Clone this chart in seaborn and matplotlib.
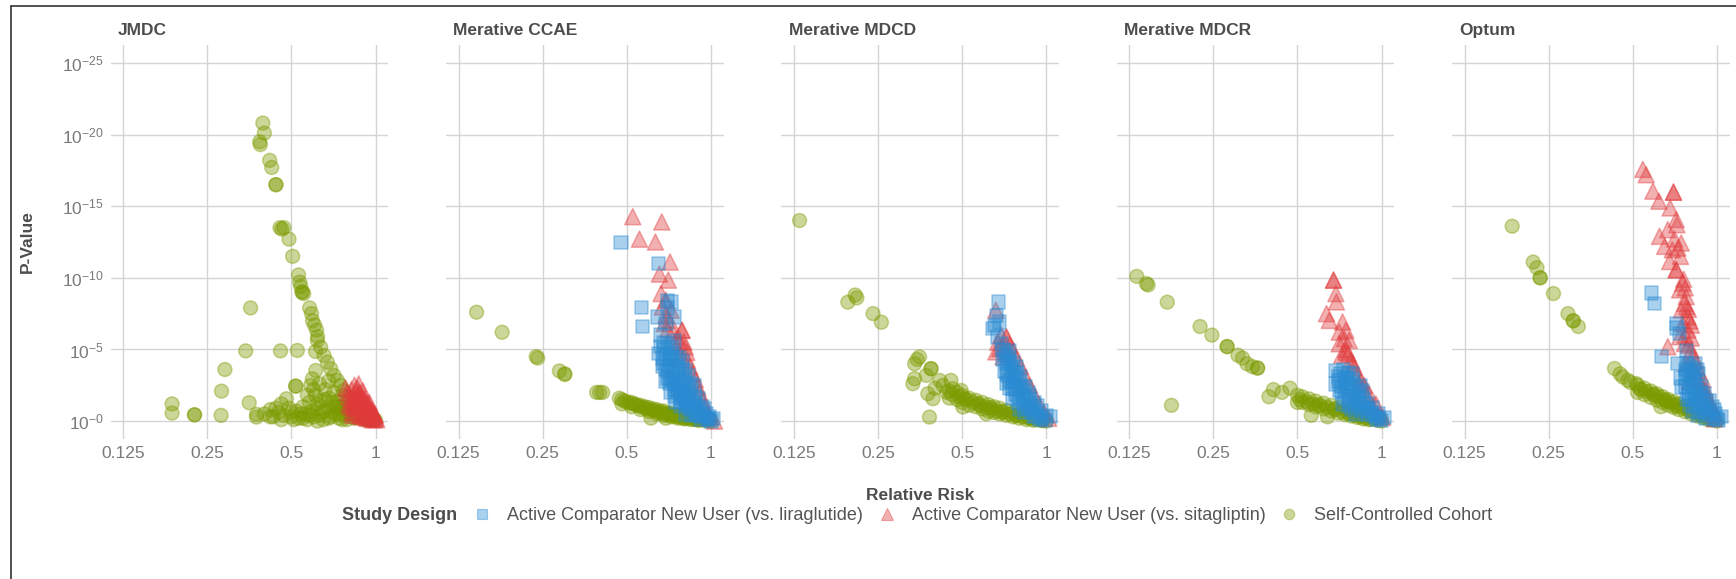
import numpy as np
import pandas as pd
import matplotlib
matplotlib.use("Agg")
import matplotlib.pyplot as plt
from matplotlib.lines import Line2D
import seaborn as sns

# databases (facets) and study designs
databases = ["JMDC", "Merative CCAE", "Merative MDCD", "Merative MDCR", "Optum"]
design_lira = "Active Comparator New User (vs. liraglutide)"
design_sita = "Active Comparator New User (vs. sitagliptin)"
design_scc = "Self-Controlled Cohort"

# relative risk (rr) and -log10(p) (nlp)
jmdc_scc_rr = [0.395, 0.40, 0.385, 0.387, 0.418, 0.425, 0.44, 0.44, 0.455, 0.47, 0.462, 0.49, 0.505, 0.53,
               0.535, 0.54, 0.545, 0.553, 0.547, 0.581, 0.59, 0.595, 0.605, 0.615, 0.62, 0.619, 0.636, 0.654,
               0.672, 0.691, 0.71, 0.73, 0.75, 0.771, 0.803, 0.837, 0.884, 0.934, 0.986,
               0.357, 0.343, 0.457, 0.525, 0.61, 0.289, 0.281, 0.353, 0.187, 0.187, 0.225, 0.225, 0.28, 0.375,
               0.375, 0.518, 0.518, 0.594, 0.586, 0.611, 0.48, 0.46, 0.44,
               0.40, 0.42, 0.43, 0.45, 0.47, 0.49, 0.50, 0.52, 0.53, 0.55, 0.56, 0.57, 0.58, 0.59, 0.60, 0.61,
               0.62, 0.63, 0.64, 0.65, 0.66, 0.66, 0.68, 0.69, 0.70, 0.71, 0.72, 0.73, 0.74, 0.75, 0.76, 0.77,
               0.78, 0.79, 0.80, 0.82, 0.83, 0.85, 0.86, 0.88, 0.90, 0.92, 0.94, 0.96, 0.98, 1.0, 0.63, 0.60,
               0.57, 0.68, 0.70, 0.74, 0.54, 0.51, 0.62,
               0.62, 0.64, 0.66, 0.68, 0.70, 0.72, 0.74, 0.76, 0.78, 0.80, 0.82, 0.84, 0.86, 0.90, 0.94,
               0.58, 0.55, 0.50, 0.46, 0.42]
jmdc_scc_nlp = [20.8, 20.1, 19.5, 19.3, 18.2, 17.7, 16.5, 16.5, 13.5, 13.5, 13.4, 12.7, 11.5, 10.2,
                9.7, 9.4, 9.0, 8.9, 9.0, 7.9, 7.5, 7.0, 6.7, 6.35, 5.9, 5.63, 5.16, 4.58,
                4.12, 3.65, 3.19, 2.84, 2.49, 2.14, 1.67, 1.21, 0.74, 0.40, 0.09,
                7.9, 4.9, 4.9, 4.93, 4.86, 3.6, 2.09, 1.28, 1.2, 0.56, 0.44, 0.44, 0.40, 0.47,
                0.28, 2.44, 2.44, 2.95, 2.49, 3.53, 1.56, 1.2, 0.9,
                0.5, 0.8, 0.3, 0.6, 0.4, 0.9, 0.3, 0.7, 0.2, 1.0, 0.5, 0.1, 1.3, 0.7, 0.3, 1.8,
                0.9, 0.4, 1.4, 0.1, 2.2, 0.7, 1.6, 0.3, 1.0, 2.0, 0.5, 1.4, 0.2, 0.9, 1.8, 0.4,
                1.2, 0.1, 0.7, 1.1, 0.3, 0.6, 0.9, 0.2, 0.5, 0.1, 0.3, 0.1, 0.2, 0.05, 2.6, 2.2,
                1.8, 2.8, 0.6, 1.0, 0.5, 0.1, 0.0,
                1.2, 0.6, 1.5, 0.2, 1.3, 1.0, 0.5, 0.1, 0.7, 1.0, 0.5, 0.2, 0.4, 0.25, 0.05,
                0.4, 0.2, 0.6, 0.1, 0.3]
jmdc_sita_rr = [0.78, 0.79, 0.80, 0.82, 0.84, 0.86, 0.85, 0.83, 0.87, 0.88, 0.89, 0.90, 0.91, 0.92, 0.93,
                0.94, 0.95, 0.96, 0.97, 0.98, 0.99, 1.00, 1.01, 0.86, 0.88, 0.92, 0.82, 0.95, 0.90, 0.87,
                0.89, 0.84, 0.81, 0.93, 0.97,
                0.80, 0.82, 0.84, 0.86, 0.87, 0.88, 0.89, 0.90, 0.91, 0.92, 0.93, 0.94, 0.95, 0.96, 0.97,
                0.98, 0.99, 1.0, 0.85, 0.83]
jmdc_sita_nlp = [2.3, 2.0, 1.7, 2.2, 2.5, 2.3, 1.6, 1.1, 1.9, 1.3, 0.9, 1.6, 1.2, 0.8, 1.3,
                 0.9, 0.6, 0.9, 0.5, 0.3, 0.5, 0.2, 0.1, 0.6, 0.4, 0.3, 0.6, 0.2, 2.1, 2.6,
                 0.3, 1.4, 1.0, 0.5, 0.1,
                 1.2, 1.5, 0.9, 1.8, 1.1, 2.0, 1.5, 1.0, 0.6, 1.5, 0.2, 1.1, 1.3, 0.4, 0.8,
                 0.6, 0.1, 0.4, 2.0, 0.4]
jmdc_lira_rr = []
jmdc_lira_nlp = []

ccae_scc_rr = [0.145, 0.179, 0.237, 0.24, 0.287, 0.30, 0.30, 0.39, 0.40, 0.41, 0.47, 0.61, 0.69,
               0.48, 0.48, 0.52, 0.52, 0.56, 0.56, 0.60, 0.60, 0.64, 0.64, 0.68, 0.68, 0.72, 0.72,
               0.76, 0.76, 0.80, 0.80, 0.85, 0.85, 0.90, 0.90, 0.95, 1.0, 0.50, 0.54, 0.58, 0.62,
               0.66, 0.70, 0.74, 0.78, 0.82, 0.88, 0.93, 0.98,
               0.49, 0.51, 0.53, 0.55, 0.57, 0.59, 0.61, 0.63, 0.65, 0.67, 0.69, 0.71, 0.73, 0.75,
               0.77, 0.79, 0.81, 0.83, 0.87, 0.91, 0.96]
ccae_scc_nlp = [7.6, 6.2, 4.5, 4.4, 3.5, 3.3, 3.25, 2.0, 2.0, 2.0, 1.6, 0.2, 0.2,
                1.5, 1.2, 1.3, 1.0, 1.1, 0.8, 0.95, 0.65, 0.8, 0.5, 0.7, 0.4, 0.55, 0.3,
                0.45, 0.2, 0.35, 0.15, 0.25, 0.1, 0.15, 0.05, 0.1, 0.0, 1.35, 1.15, 1.0, 0.85,
                0.7, 0.55, 0.45, 0.35, 0.25, 0.15, 0.1, 0.05,
                1.4, 1.25, 1.2, 1.05, 0.95, 0.85, 0.75, 0.7, 0.6, 0.55, 0.5, 0.45, 0.38, 0.32,
                0.28, 0.24, 0.2, 0.17, 0.12, 0.08, 0.03]
ccae_sita_rr = [0.525, 0.667, 0.555, 0.633, 0.714, 0.654, 0.704, 0.663, 0.69, 0.67, 0.69, 0.68, 0.72,
                0.71, 0.788, 0.788, 0.80, 0.81, 0.75, 0.78, 0.825, 0.86, 0.896, 0.934, 0.973, 1.03,
                0.76, 0.73, 0.70, 0.84, 0.88, 0.91, 0.95, 0.99, 0.77, 0.82]
ccae_sita_nlp = [14.27, 13.9, 12.7, 12.5, 11.1, 10.26, 9.84, 8.9, 8.44, 7.97, 7.39, 6.81, 7.74,
                 7.04, 6.34, 6.34, 5.52, 5.17, 5.17, 4.71, 4.24, 3.31, 2.38, 1.45, 0.51, 0.0,
                 5.9, 6.2, 6.4, 3.8, 2.9, 2.0, 1.0, 0.3, 5.5, 4.8]
ccae_lira_rr = [0.477, 0.65, 0.70, 0.72, 0.563, 0.57, 0.645, 0.74, 0.69, 0.65, 0.70, 0.66, 0.68,
                0.66, 0.68, 0.70, 0.72, 0.74,
                0.67, 0.69, 0.71, 0.73, 0.75, 0.77, 0.79,
                0.67, 0.69, 0.71, 0.73, 0.75, 0.77, 0.79, 0.81, 0.83,
                0.69, 0.71, 0.73, 0.75, 0.77, 0.79, 0.81, 0.83, 0.85, 0.87,
                0.72, 0.74, 0.76, 0.78, 0.80, 0.82, 0.84, 0.86, 0.88, 0.90,
                0.75, 0.78, 0.81, 0.84, 0.87, 0.90, 0.93, 0.95,
                0.81, 0.85, 0.89, 0.93, 0.96, 0.99, 1.02, 0.97, 1.0, 0.92,
                0.68, 0.70, 0.72, 0.74, 0.76, 0.78, 0.80, 0.82, 0.84, 0.86, 0.88, 0.90,
                0.72, 0.76, 0.80, 0.84, 0.88, 0.92, 0.95, 0.98, 0.70, 0.74, 0.78]
ccae_lira_nlp = [12.47, 11.0, 8.44, 8.32, 7.93, 6.62, 7.27, 7.27, 6.81, 4.7, 7.9, 6.0, 5.5,
                 5.2, 5.0, 5.4, 5.1, 5.6,
                 4.4, 4.6, 4.3, 4.7, 4.5, 4.4, 4.2,
                 3.8, 3.6, 3.9, 3.4, 3.7, 3.3, 3.6, 3.5, 3.2,
                 2.8, 2.6, 2.9, 2.5, 2.8, 2.4, 2.7, 2.3, 2.6, 2.5,
                 2.0, 1.7, 2.1, 1.6, 1.9, 1.5, 1.8, 1.4, 1.7, 1.6,
                 1.3, 1.0, 1.2, 0.9, 1.1, 0.8, 1.0, 0.9,
                 0.5, 0.4, 0.5, 0.3, 0.5, 0.3, 0.2, 0.1, 0.0, 0.1,
                 4.0, 3.5, 3.0, 2.7, 2.3, 2.0, 1.6, 1.3, 1.1, 0.8, 0.6, 0.4,
                 4.4, 3.9, 3.0, 2.1, 1.3, 0.6, 0.3, 0.15, 3.0, 2.2, 1.4]

mdcd_scc_rr = [0.131, 0.195, 0.207, 0.21, 0.24, 0.257, 0.352, 0.345, 0.338, 0.387, 0.387, 0.338, 0.333,
               0.372, 0.377, 0.393, 0.382, 0.416, 0.427, 0.456, 0.463, 0.496, 0.503, 0.61, 0.40, 0.44,
               0.45, 0.45, 0.48, 0.48, 0.50, 0.50, 0.53, 0.53, 0.56, 0.56, 0.59, 0.59, 0.62, 0.62,
               0.65, 0.65, 0.68, 0.68, 0.72, 0.72, 0.76, 0.76, 0.80, 0.80, 0.85, 0.85, 0.90, 0.90,
               0.95, 1.0, 0.51, 0.57, 0.63, 0.70, 0.78, 0.87, 0.97,
               0.46, 0.49, 0.52, 0.55, 0.58, 0.61, 0.64, 0.67, 0.70, 0.74, 0.78, 0.82, 0.87, 0.92, 0.97]
mdcd_scc_nlp = [14.0, 8.3, 8.8, 8.6, 7.5, 6.9, 4.48, 4.3, 4.0, 3.66, 3.66, 2.96, 2.61,
                3.19, 1.91, 1.56, 0.28, 2.84, 2.49, 2.84, 2.26, 2.14, 0.98, 0.51, 2.3, 2.0,
                2.1, 1.6, 2.0, 1.5, 1.8, 1.3, 1.6, 1.1, 1.45, 1.0, 1.3, 0.85, 1.15, 0.7,
                1.0, 0.6, 0.9, 0.5, 0.75, 0.4, 0.6, 0.3, 0.5, 0.2, 0.35, 0.1, 0.2, 0.05,
                0.1, 0.0, 1.55, 1.2, 0.95, 0.65, 0.4, 0.2, 0.05,
                1.85, 1.7, 1.5, 1.3, 1.1, 0.95, 0.8, 0.7, 0.6, 0.5, 0.4, 0.3, 0.2, 0.1, 0.03]
mdcd_sita_rr = [0.66, 0.72, 0.72, 0.66, 0.68, 0.70, 0.73, 0.76, 0.70, 0.74, 0.78, 0.81, 0.84, 0.87,
                0.90, 0.94, 0.98, 1.02, 0.69, 0.67]
mdcd_sita_nlp = [7.74, 5.87, 5.87, 4.83, 5.06, 5.17, 4.71, 4.94, 4.5, 5.3, 4.4, 3.8, 3.1, 2.5,
                 1.9, 1.2, 0.6, 0.2, 6.0, 5.5]
mdcd_lira_rr = [0.675, 0.662, 0.653, 0.644, 0.68, 0.67, 0.69,
                0.70, 0.72, 0.74,
                0.70, 0.72, 0.74, 0.76, 0.78,
                0.71, 0.73, 0.75, 0.77, 0.79, 0.81,
                0.72, 0.74, 0.76, 0.78, 0.80, 0.82, 0.84, 0.86,
                0.76, 0.79, 0.82, 0.85, 0.88, 0.91, 0.93,
                0.80, 0.84, 0.88, 0.92, 0.96, 1.0, 1.03, 0.90, 0.95, 0.99,
                0.71, 0.73, 0.75, 0.72, 0.74, 0.76, 0.78, 0.80, 0.83, 0.86, 0.89, 0.92, 0.96,
                0.77, 0.80, 0.83, 0.87, 0.90]
mdcd_lira_nlp = [8.32, 7.39, 6.69, 6.46, 6.92, 5.87, 5.4,
                 5.0, 4.8, 4.9,
                 4.3, 4.0, 4.4, 4.1, 3.8,
                 3.5, 3.2, 3.6, 3.0, 3.4, 3.1,
                 2.6, 2.3, 2.7, 2.2, 2.5, 2.1, 2.4, 2.0,
                 1.6, 1.3, 1.7, 1.4, 1.6, 1.3, 1.1,
                 0.8, 0.6, 0.9, 0.6, 0.7, 0.4, 0.3, 0.3, 0.1, 0.05,
                 4.6, 4.2, 3.8, 3.3, 2.8, 2.3, 1.9, 1.5, 1.1, 0.9, 0.6, 0.35, 0.2,
                 3.3, 2.8, 2.4, 1.8, 1.0]

mdcr_scc_rr = [0.133, 0.144, 0.146, 0.171, 0.177, 0.224, 0.247, 0.28, 0.28, 0.306, 0.318, 0.33, 0.345,
               0.36, 0.36, 0.395, 0.41, 0.44, 0.47, 0.50, 0.50, 0.56, 0.64,
               0.52, 0.52, 0.55, 0.55, 0.58, 0.58, 0.62, 0.62, 0.66, 0.66, 0.70, 0.70, 0.74, 0.74,
               0.78, 0.78, 0.82, 0.82, 0.86, 0.86, 0.90, 0.90, 0.95, 1.0, 0.60, 0.68, 0.76, 0.84, 0.93,
               0.51, 0.54, 0.57, 0.60, 0.64, 0.68, 0.72, 0.76, 0.80, 0.84, 0.88, 0.92, 0.97]
mdcr_scc_nlp = [10.1, 9.6, 9.5, 8.3, 1.1, 6.6, 6.0, 5.2, 5.2, 4.6, 4.4, 4.0, 3.8,
                3.7, 3.7, 1.7, 2.2, 2.0, 2.3, 1.8, 1.3, 0.4, 0.3,
                1.7, 1.3, 1.55, 1.15, 1.4, 1.0, 1.25, 0.85, 1.1, 0.7, 0.95, 0.55, 0.8, 0.45,
                0.65, 0.35, 0.5, 0.25, 0.4, 0.15, 0.3, 0.1, 0.15, 0.0, 1.15, 0.85, 0.55, 0.35, 0.2,
                1.5, 1.35, 1.2, 1.05, 0.95, 0.8, 0.65, 0.55, 0.4, 0.3, 0.2, 0.12, 0.05]
mdcr_sita_rr = [0.673, 0.673, 0.686, 0.689, 0.635, 0.65, 0.725, 0.705, 0.745, 0.735, 0.766, 0.705, 0.745,
                0.776, 0.798, 0.82, 0.843, 0.867, 0.903, 0.954, 1.008, 0.745, 0.76, 0.72, 0.79, 0.83,
                0.88, 0.93, 0.98]
mdcr_sita_nlp = [9.84, 9.84, 8.90, 8.32, 7.5, 7.03, 6.92, 6.21, 6.33, 5.75, 5.63, 5.4, 4.81,
                 4.23, 3.76, 3.18, 2.83, 2.48, 1.89, 1.19, 0.26, 5.0, 4.7, 4.6, 4.0, 2.6,
                 1.9, 1.0, 0.5]
mdcr_lira_rr = [0.686, 0.715, 0.686, 0.705, 0.745, 0.70, 0.73, 0.76, 0.787, 0.72, 0.75, 0.78, 0.81, 0.83,
                0.855, 0.725, 0.74, 0.77, 0.80, 0.83, 0.86, 0.89, 0.93, 0.78, 0.81, 0.85, 0.89, 0.93,
                0.97, 1.02, 0.96, 1.0, 0.88, 0.76,
                0.70, 0.72, 0.74, 0.76, 0.78, 0.80, 0.82, 0.84, 0.87, 0.90, 0.92, 0.95, 0.98,
                0.75, 0.79, 0.84]
mdcr_lira_nlp = [3.53, 3.29, 2.59, 2.13, 2.94, 3.1, 3.6, 3.4, 3.29, 2.4, 2.2, 2.6, 2.3, 2.0,
                 2.13, 1.19, 1.6, 1.4, 1.7, 1.3, 1.6, 1.2, 0.96, 0.8, 0.49, 0.7, 0.5, 0.4,
                 0.5, 0.26, 0.1, 0.05, 0.9, 1.0,
                 2.8, 2.0, 2.6, 1.8, 2.2, 1.2, 1.8, 1.0, 1.3, 0.8, 0.6, 0.3, 0.2,
                 3.0, 2.9, 2.5]

optum_scc_rr = [0.185, 0.22, 0.227, 0.233, 0.233, 0.26, 0.293, 0.306, 0.306, 0.319, 0.43, 0.46, 0.45,
                0.48, 0.49, 0.514, 0.63,
                0.52, 0.52, 0.55, 0.55, 0.58, 0.58, 0.61, 0.61, 0.64, 0.64, 0.67, 0.67, 0.70, 0.70,
                0.73, 0.73, 0.77, 0.77, 0.81, 0.81, 0.85, 0.85, 0.89, 0.89, 0.93, 0.93, 0.97, 1.0,
                0.535, 0.595, 0.655, 0.715, 0.79, 0.87, 0.95,
                0.53, 0.56, 0.59, 0.62, 0.65, 0.68, 0.71, 0.75, 0.79, 0.83, 0.87, 0.91, 0.95]
optum_scc_nlp = [13.6, 11.1, 10.7, 10.0, 10.0, 8.9, 7.5, 7.0, 7.0, 6.6, 3.67, 3.08, 3.3,
                 2.85, 2.7, 2.62, 1.0,
                 2.5, 2.0, 2.3, 1.85, 2.1, 1.65, 1.9, 1.45, 1.7, 1.3, 1.5, 1.1, 1.35, 0.95,
                 1.2, 0.8, 1.0, 0.65, 0.85, 0.5, 0.65, 0.35, 0.5, 0.25, 0.3, 0.1, 0.15, 0.0,
                 2.2, 1.8, 1.4, 1.05, 0.75, 0.45, 0.2,
                 2.25, 2.05, 1.9, 1.7, 1.5, 1.3, 1.15, 0.95, 0.8, 0.6, 0.45, 0.3, 0.1]
optum_sita_rr = [0.543, 0.558, 0.59, 0.62, 0.699, 0.699, 0.68, 0.715, 0.719, 0.667, 0.623, 0.705, 0.745,
                 0.65, 0.692, 0.725, 0.677, 0.715, 0.715, 0.755, 0.735, 0.776, 0.766, 0.745, 0.787,
                 0.755, 0.787, 0.735, 0.766, 0.809, 0.776, 0.832, 0.798, 0.867, 0.916, 0.981, 0.667,
                 0.76, 0.78, 0.80, 0.77, 0.81, 0.82, 0.85, 0.88, 0.90, 0.94, 0.97,
                 0.84, 0.86, 0.89, 0.91, 0.93, 0.96, 0.99, 0.79, 0.81, 0.79, 0.77, 0.74]
optum_sita_nlp = [17.57, 17.2, 16.05, 15.35, 15.98, 15.98, 14.88, 14.07, 13.71, 13.36, 12.9, 12.71, 12.43,
                  12.2, 11.96, 12.08, 11.14, 10.56, 10.56, 9.63, 9.16, 8.69, 8.22, 7.76, 7.29,
                  6.82, 6.36, 5.89, 5.42, 4.95, 4.02, 3.55, 2.85, 2.15, 0.98, 0.16, 5.19,
                  9.9, 8.0, 7.0, 6.0, 5.8, 4.5, 3.0, 2.5, 1.8, 1.2, 0.6,
                  4.2, 3.5, 2.9, 2.2, 1.6, 1.0, 0.4, 5.3, 6.7, 7.8, 9.3, 11.5]
optum_lira_rr = [0.582, 0.598, 0.632, 0.715, 0.735, 0.72, 0.776, 0.776, 0.725, 0.745, 0.74,
                 0.77, 0.79, 0.81, 0.84, 0.77, 0.80, 0.83, 0.86, 0.77, 0.79, 0.82, 0.85, 0.88,
                 0.78, 0.80, 0.83, 0.86, 0.89, 0.92, 0.82, 0.85, 0.89, 0.93, 0.96, 0.99, 1.04,
                 0.91, 0.97, 1.01,
                 0.78, 0.80, 0.82, 0.84, 0.87, 0.79, 0.81, 0.84, 0.88, 0.90, 0.92, 0.94, 0.95,
                 0.98, 1.0, 0.87, 0.83, 0.85]
optum_lira_nlp = [8.93, 8.22, 4.49, 6.82, 6.12, 6.5, 4.95, 4.02, 4.02, 2.38, 3.0,
                  3.6, 3.9, 3.7, 4.0, 3.0, 3.2, 3.0, 3.3, 2.4, 2.0, 2.5, 2.2, 2.4,
                  1.5, 1.1, 1.6, 1.3, 1.7, 1.4, 0.7, 0.4, 0.8, 0.6, 1.0, 0.5, 0.3,
                  0.2, 0.1, 0.05,
                  3.3, 2.6, 3.5, 2.8, 2.0, 1.8, 1.5, 1.9, 1.1, 1.9, 0.9, 1.4, 0.4,
                  0.8, 0.2, 0.6, 1.0, 3.6]

series = [
    ("JMDC", jmdc_scc_rr, jmdc_scc_nlp, jmdc_sita_rr, jmdc_sita_nlp, jmdc_lira_rr, jmdc_lira_nlp),
    ("Merative CCAE", ccae_scc_rr, ccae_scc_nlp, ccae_sita_rr, ccae_sita_nlp, ccae_lira_rr, ccae_lira_nlp),
    ("Merative MDCD", mdcd_scc_rr, mdcd_scc_nlp, mdcd_sita_rr, mdcd_sita_nlp, mdcd_lira_rr, mdcd_lira_nlp),
    ("Merative MDCR", mdcr_scc_rr, mdcr_scc_nlp, mdcr_sita_rr, mdcr_sita_nlp, mdcr_lira_rr, mdcr_lira_nlp),
    ("Optum", optum_scc_rr, optum_scc_nlp, optum_sita_rr, optum_sita_nlp, optum_lira_rr, optum_lira_nlp),
]

rows = []
for db, s_rr, s_nlp, t_rr, t_nlp, l_rr, l_nlp in series:
    # draw order: self-controlled, sitagliptin, liraglutide
    for rr, nlp, des in [(s_rr, s_nlp, design_scc), (t_rr, t_nlp, design_sita), (l_rr, l_nlp, design_lira)]:
        for a, b in zip(rr, nlp):
            rows.append((db, des, a, b))
df = pd.DataFrame(rows, columns=["database", "design", "rr", "nlp"])

pal = {design_lira: "#2a8bd2", design_sita: "#e03a3c", design_scc: "#7c9b00"}
mk = {design_lira: "s", design_sita: "^", design_scc: "o"}
sz = {design_lira: 92, design_sita: 135, design_scc: 100}

sns.set_theme(style="white")
plt.rcParams['font.family'] = ['Liberation Sans', 'DejaVu Sans']
plt.rcParams['mathtext.fontset'] = 'custom'
plt.rcParams['mathtext.rm'] = 'Liberation Sans'
plt.rcParams['mathtext.it'] = 'Liberation Sans:italic'
plt.rcParams['mathtext.bf'] = 'Liberation Sans:bold'

title_color = "#4d4d4d"
tick_color = "#7a7a7a"
grid_color = "#d4d4d4"

fig, axes = plt.subplots(1, 5, figsize=(17.36, 5.79), dpi=100, sharey=True)
fig.subplots_adjust(left=0.0637, right=0.9963, bottom=0.2418, top=0.9223, wspace=0.208)

for ax, db in zip(axes, databases):
    sub = df[df["database"] == db]
    ax.set_xscale("log", base=2)
    # edge drawn in the same colour so the alpha ring looks like ggplot points
    sns.scatterplot(data=sub, x="rr", y="nlp", hue="design", style="design", size="design",
                    palette=pal, markers=mk, sizes=sz, alpha=0.4, linewidth=1.1,
                    edgecolor="face", legend=False, ax=ax, zorder=3)
    ax.set_xlim(2 ** -3.15, 2 ** 0.15)
    ax.set_ylim(-1.25, 26.25)
    ax.set_xticks([0.125, 0.25, 0.5, 1])
    ax.set_xticklabels(["0.125", "0.25", "0.5", "1"])
    ax.xaxis.set_minor_locator(matplotlib.ticker.NullLocator())
    ax.set_yticks([0, 5, 10, 15, 20, 25])
    ax.set_yticklabels(["$10^{-0}$", "$10^{-5}$", "$10^{-10}$", "$10^{-15}$", "$10^{-20}$", "$10^{-25}$"])
    ax.grid(True, color=grid_color, linewidth=1.0, zorder=0)
    ax.set_axisbelow(True)
    for sp in ax.spines.values():
        sp.set_visible(False)
    ax.tick_params(length=0, labelsize=12.5, colors=tick_color, pad=5)
    ax.set_xlabel("")
    ax.set_ylabel("")
    ax.text(0.027, 1.038, db, transform=ax.transAxes, ha="left", va="center",
            fontsize=12.5, fontweight="bold", color=title_color)

fig.text(27 / 1736, 1 - 242 / 579, "P-Value", rotation=90, ha="center", va="center",
         fontsize=12.5, fontweight="bold", color=title_color)
fig.text(920 / 1736, 1 - 495 / 579, "Relative Risk", ha="center", va="center",
         fontsize=12.5, fontweight="bold", color=title_color)

# legend
leg_y = 1 - 516 / 579
fig.text(342 / 1736, leg_y, "Study Design", ha="left", va="center",
         fontsize=13, fontweight="bold", color=title_color)
handles = [Line2D([], [], linestyle="none", marker=mk[d], markersize=7.5 if d != design_sita else 9,
                  markerfacecolor=pal[d], markeredgecolor=pal[d], markeredgewidth=0.8, alpha=0.4)
           for d in [design_lira, design_sita, design_scc]]
fig.legend(handles, [design_lira, design_sita, design_scc], loc="center left",
           bbox_to_anchor=(473 / 1736, leg_y), ncol=3, frameon=False, fontsize=13,
           handlelength=1.0, handletextpad=0.9, columnspacing=0.8, borderpad=0,
           borderaxespad=0, labelcolor="#555555")

# outer frame lines (left and top)
fig.add_artist(Line2D([11 / 1736, 11 / 1736], [0, 1 - 6 / 579], color="#333333", linewidth=1.2))
fig.add_artist(Line2D([11 / 1736, 1], [1 - 6 / 579, 1 - 6 / 579], color="#333333", linewidth=1.2))

fig.savefig("out.png", dpi=100)
